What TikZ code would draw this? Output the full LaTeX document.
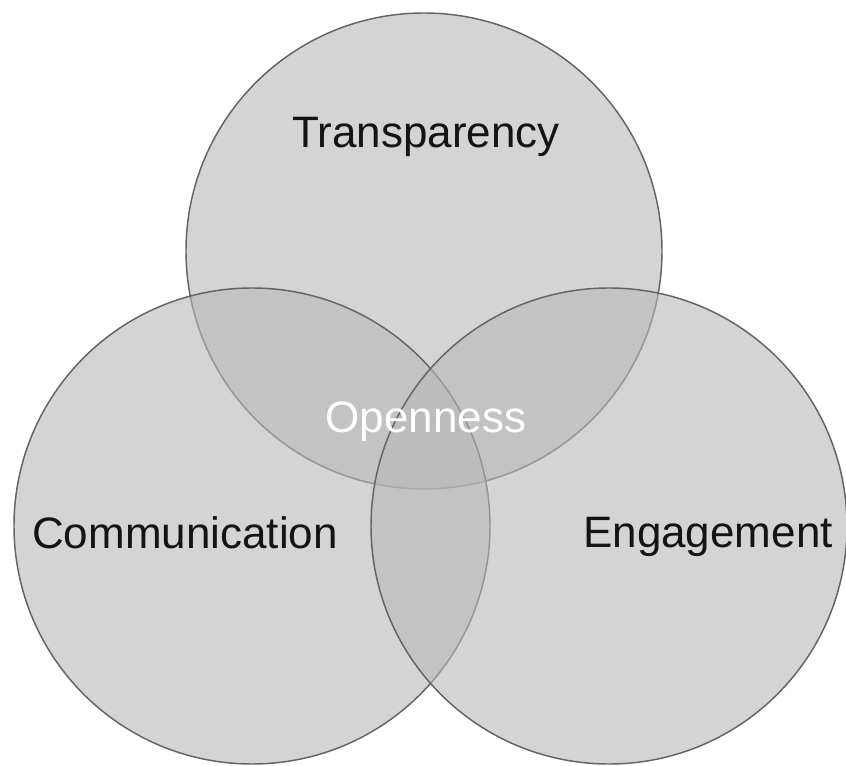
\documentclass[tikz,border=0pt]{standalone}
\usepackage{fontspec}
\setmainfont{Liberation Sans}
\usetikzlibrary{positioning}
\definecolor{vennfill}{RGB}{183,183,183}
\definecolor{vennline}{RGB}{100,100,100}
\definecolor{inktext}{RGB}{20,20,20}

\begin{document}
\begin{tikzpicture}[x=0.75pt,y=-0.75pt,
    setcircle/.style={circle,inner sep=0pt,minimum size=357pt,
      fill=vennfill,fill opacity=0.6,draw=vennline,line width=1.1pt},
    setlabel/.style={anchor=base,font=\fontsize{33}{40}\selectfont,text=inktext}]
        \useasboundingbox (0,0) rectangle (846,766);
        % the three sets
        \node[setcircle] (transp) at (424,251) {};
        \node[setcircle] (commun) at (252,526) {};
        \node[setcircle] (engage) at (609,526) {};
        % labels
        \node[setlabel] (transplabel) at (426,148) {Transparency};
        \node[setlabel] (communlabel) at (185,548) {Communication};
        \node[setlabel] (engagelabel) at (708,547) {Engagement};
        \node[setlabel,text=white] (openlabel) at (426,432) {Openness};
      \end{tikzpicture}
\end{document}
